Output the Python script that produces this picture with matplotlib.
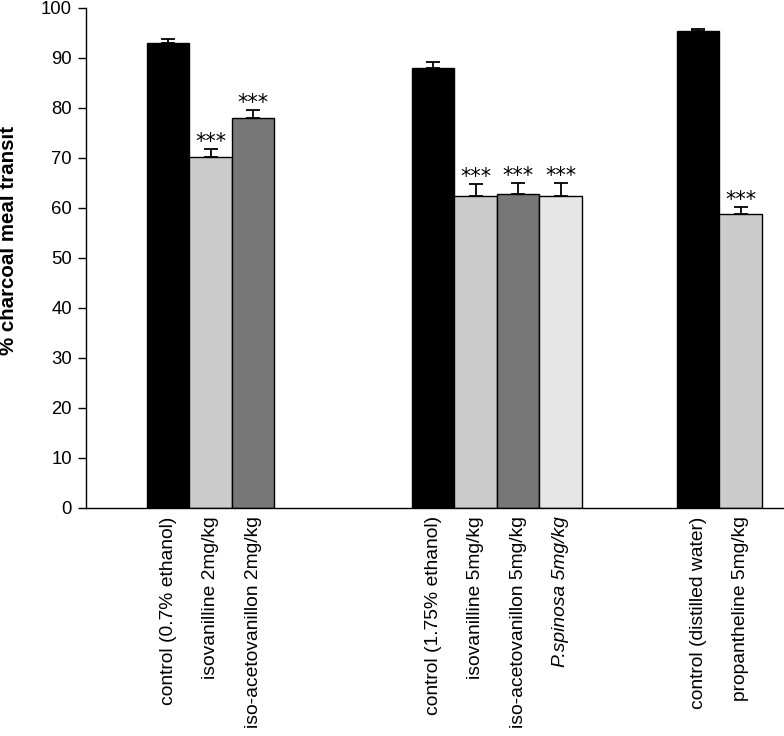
import matplotlib
matplotlib.use("Agg")
import matplotlib.pyplot as plt
import numpy as np

plt.rcParams['font.family'] = ['Liberation Sans', 'DejaVu Sans']

# Data
groups = [
    ["control (0.7% ethanol)", "isovanilline 2mg/kg", "iso-acetovanillon 2mg/kg"],
    ["control (1.75% ethanol)", "isovanilline 5mg/kg", "iso-acetovanillon 5mg/kg", "P.spinosa 5mg/kg"],
    ["control (distilled water)", "propantheline 5mg/kg"],
]
values = [
    [93.0, 70.3, 78.1],
    [88.1, 62.5, 62.9, 62.5],
    [95.4, 58.9],
]
errors = [
    [0.9, 1.5, 1.6],
    [1.1, 2.4, 2.2, 2.6],
    [0.5, 1.4],
]
significant = [
    [False, True, True],
    [False, True, True, True],
    [False, True],
]
colors = [
    ["#000000", "#cccccc", "#777777"],
    ["#000000", "#cccccc", "#777777", "#e6e6e6"],
    ["#000000", "#cccccc"],
]
italic_labels = {"P.spinosa 5mg/kg"}

fig = plt.figure(figsize=(7.84, 7.36), dpi=100)
ax = fig.add_axes([86/784, 1-508/736, 1-86/784, 500/736])

group_spacing = 6.235
xs, vals, errs, cols, labels, sig = [], [], [], [], [], []
for gi, g in enumerate(groups):
    for bi, lab in enumerate(g):
        xs.append(gi*group_spacing + bi + 0.5)
        vals.append(values[gi][bi])
        errs.append(errors[gi][bi])
        cols.append(colors[gi][bi])
        labels.append(lab)
        sig.append(significant[gi][bi])

ax.bar(xs, vals, width=1.0, color=cols, edgecolor='black', linewidth=1.0, zorder=2)
ax.errorbar(xs, vals, yerr=[np.zeros(len(errs)), errs], fmt='none', ecolor='black',
            elinewidth=1.3, capsize=5.3, capthick=1.3, zorder=3)
for x, v, e, s in zip(xs, vals, errs, sig):
    if s:
        ax.text(x, v + e + 0.1, "***", ha='center', va='baseline', fontsize=15,
                family='DejaVu Sans')

ax.set_xlim(-1.435, 14.99)
ax.set_ylim(0, 100)
ax.set_yticks(np.arange(0, 101, 10))
ax.tick_params(axis='y', labelsize=13.3, length=6, width=1, direction='out', pad=4)
ax.set_xticks(xs)
ax.set_xticklabels(labels, rotation=90, fontsize=13.9, va='top', ha='center')
for t in ax.get_xticklabels():
    if t.get_text() in italic_labels:
        t.set_fontstyle('italic')
ax.tick_params(axis='x', length=0, pad=6)
ax.spines['top'].set_visible(False)
ax.spines['right'].set_visible(False)
ax.spines['left'].set_linewidth(1)
ax.spines['bottom'].set_linewidth(1)
ax.set_ylabel("% charcoal meal transit", fontsize=14.8, fontweight='bold')
ax.yaxis.set_label_coords(-0.097, 0.536)

fig.savefig("out.png", dpi=100)
